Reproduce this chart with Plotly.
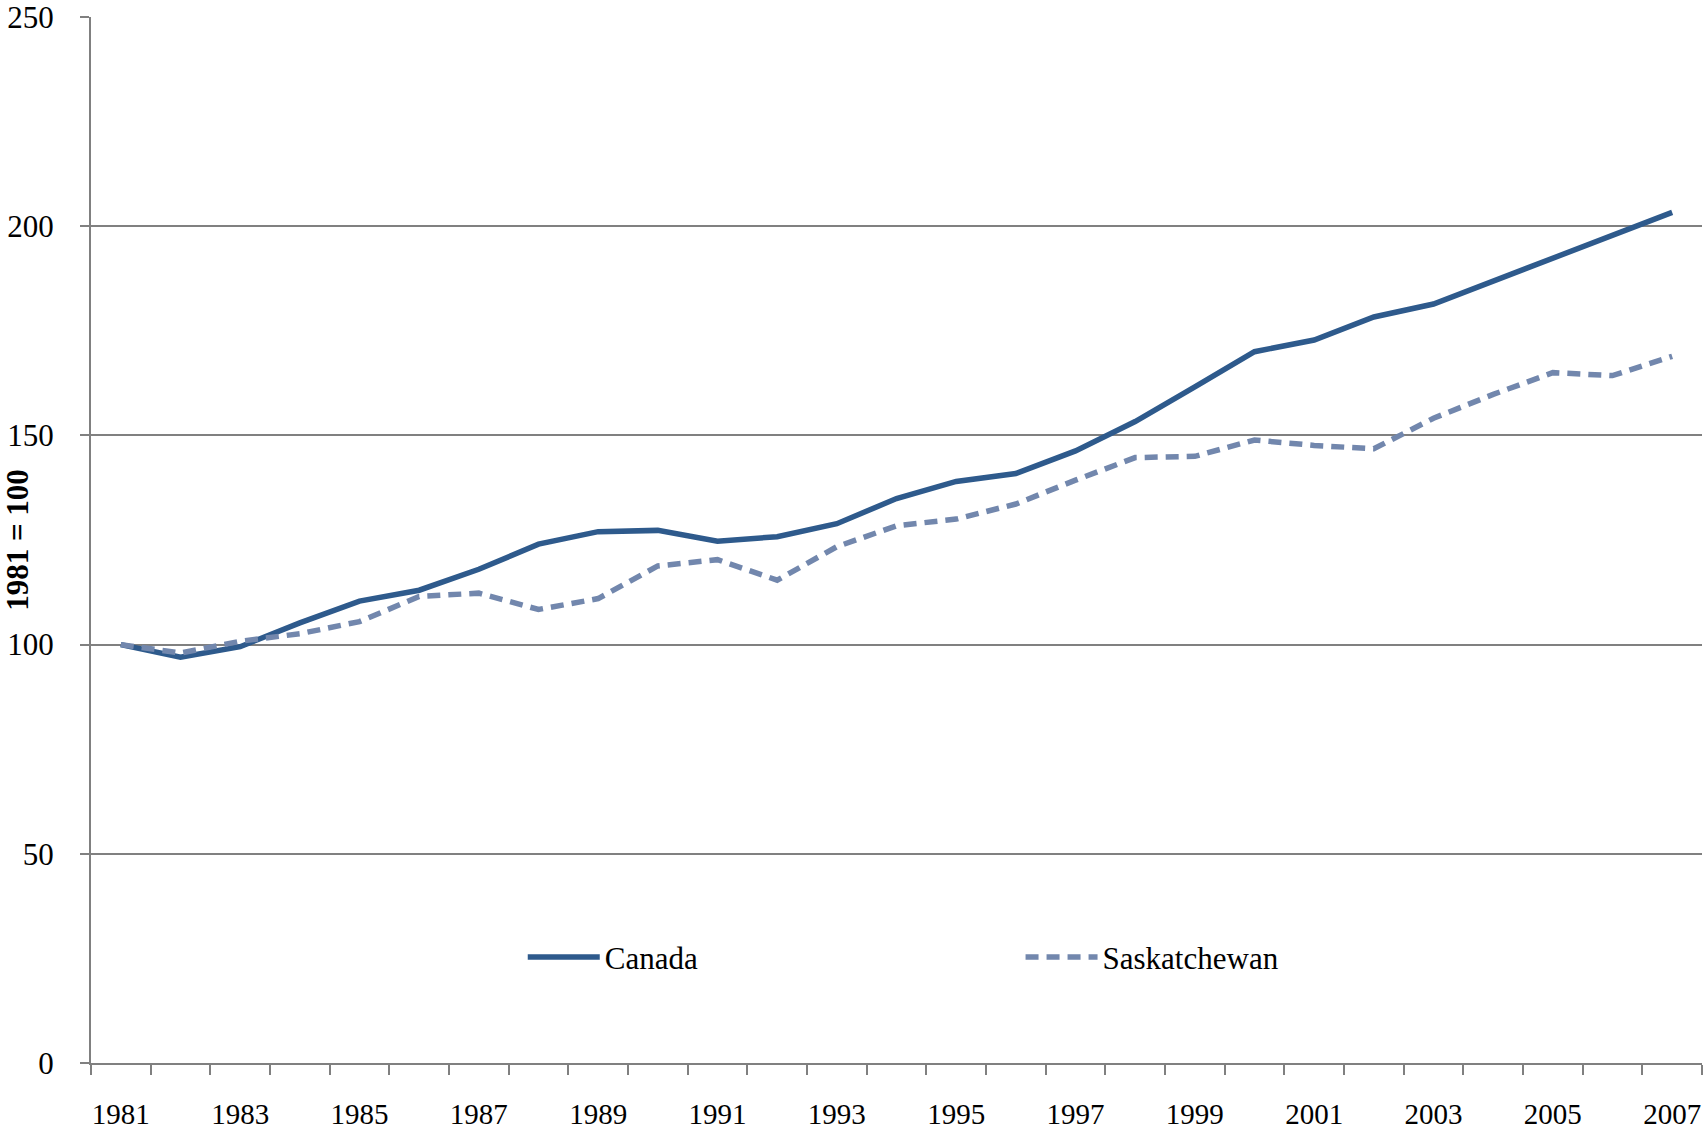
import plotly.graph_objects as go

years = list(range(1981, 2008))
canada = [100, 97.0, 99.5, 105.2, 110.4, 113.0, 118.0, 124.0, 127.0, 127.3,
          124.7, 125.8, 128.9, 134.9, 139.0, 140.9, 146.3, 153.3, 161.6, 170.0,
          172.8, 178.3, 181.4, 186.9, 192.6, 198.0, 203.3]
sask = [100, 98.0, 100.8, 102.6, 105.5, 111.5, 112.3, 108.4, 111.0, 118.8,
        120.3, 115.4, 123.4, 128.4, 130.0, 133.6, 139.3, 144.7, 145.0, 148.9,
        147.6, 146.8, 154.1, 159.8, 165.0, 164.3, 168.9]
label_years = [y for y in years if y % 2 == 1]
y_ticks = [0, 50, 100, 150, 200, 250]

GRID = "#808080"
FONT = "Liberation Serif"

fig = go.Figure()
fig.add_trace(go.Scatter(x=years, y=canada, mode="lines", name="Canada",
                         showlegend=True,
                         line=dict(color="#2E5A8C", width=5.5), legend="legend"))
fig.add_trace(go.Scatter(x=years, y=sask, mode="lines", name="Saskatchewan",
                         showlegend=True,
                         line=dict(color="#7287AD", width=5.5, dash="13px,8px"),
                         legend="legend2"))

fig.update_layout(
    width=1704, height=1131,
    showlegend=True,
    margin=dict(l=91, r=2, t=17, b=68, autoexpand=False),
    paper_bgcolor="white", plot_bgcolor="white",
    font=dict(family=FONT, size=30, color="black"),
    legend=dict(x=0.268, y=0.101, xanchor="left", yanchor="middle",
                itemwidth=72,
                bgcolor="rgba(0,0,0,0)", font=dict(size=31, family=FONT)),
    legend2=dict(x=0.577, y=0.101, xanchor="left", yanchor="middle",
                 itemwidth=72,
                 bgcolor="rgba(0,0,0,0)", font=dict(size=31, family=FONT)),
    xaxis=dict(
        range=[1980.5, 2007.5], tickmode="array", tickvals=label_years,
        ticktext=[str(y) for y in label_years], ticks="", showgrid=False,
        zeroline=False, showline=True, linecolor=GRID, linewidth=2,
        automargin=False, ticklabeloverflow="allow",
        ticklabelstandoff=24, tickfont=dict(size=29, family=FONT),
        minor=dict(tickmode="array", tickvals=[1980.5 + i for i in range(28)],
                   ticks="outside", ticklen=10, tickcolor=GRID, tickwidth=2,
                   showgrid=False),
    ),
    yaxis=dict(
        range=[0, 250], tickmode="array", tickvals=y_ticks,
        showgrid=True, gridcolor=GRID, gridwidth=1.5, zeroline=False,
        showline=True, linecolor=GRID, linewidth=2,
        automargin=False, ticklabeloverflow="allow",
        ticks="outside", ticklen=9, tickcolor=GRID, tickwidth=2,
        ticklabelstandoff=20, tickfont=dict(size=31, family=FONT),
        title=dict(text="<b>1981 = 100</b>", standoff=22,
                   font=dict(size=31, family=FONT)),
    ),
)

fig.write_html(
    "out.html",
    config={"displayModeBar": False},
    post_script="document.body.style.margin='0';document.body.style.overflow='hidden';",
)
